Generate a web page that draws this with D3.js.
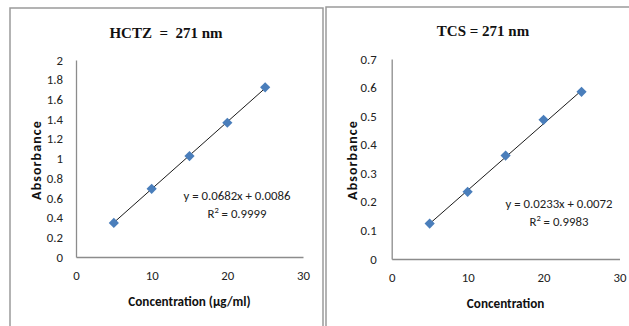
<!DOCTYPE html>
<html>
<head>
<meta charset="utf-8">
<script src="https://cdn.jsdelivr.net/npm/d3@7"></script>
<style>
  html, body { margin: 0; padding: 0; background: #fff; }
  svg { display: block; }
  .tick-label { font-family: Carlito, Lato, "Open Sans", sans-serif; font-size: 12.8px; fill: #222; }
  .axis-title { font-family: Carlito, Lato, "Open Sans", sans-serif; font-size: 13.2px; font-weight: bold; fill: #111; }
  .chart-title { font-family: "Liberation Serif", "Times New Roman", serif; font-size: 15px; font-weight: bold; fill: #111; }
  .eq { font-family: Carlito, Lato, "Open Sans", sans-serif; font-size: 12.8px; fill: #222; }
</style>
</head>
<body>
<svg id="chart" width="629" height="326"></svg>
<script>
// ---- Data ----
const concentrations = [5, 10, 15, 20, 25];
const hctzAbsorbance = [0.346, 0.692, 1.025, 1.363, 1.723];
const tcsAbsorbance = [0.124, 0.235, 0.362, 0.487, 0.585];
const hctzFit = [0.0682, 0.0086];   // slope, intercept
const tcsFit = [0.0233, 0.0072];
const hctzR2 = "0.9999";
const tcsR2 = "0.9983";
const xTicks = [0, 10, 20, 30];
const hctzYTicks = [0, 0.2, 0.4, 0.6, 0.8, 1, 1.2, 1.4, 1.6, 1.8, 2];
const tcsYTicks = [0, 0.1, 0.2, 0.3, 0.4, 0.5, 0.6, 0.7];
const titles = ["HCTZ  =  271 nm", "TCS = 271 nm"];
const xTitles = ["Concentration (µg/ml)", "Concentration"];
const yTitle = "Absorbance";

const svg = d3.select("#chart");

// panel borders
const border = svg.append("g").attr("stroke", "#9a9a9a").attr("stroke-width", 1.5).attr("fill", "none");
border.append("path").attr("d", "M10,330 L10,8 L323,8 L323,330");
border.append("path").attr("d", "M326,330 L326,7 L635,7");

function drawPanel(cfg) {
  const x = d3.scaleLinear().domain([0, 30]).range([cfg.x0, cfg.x1]);
  const y = d3.scaleLinear().domain([0, cfg.yMax]).range([cfg.y0, cfg.y1]);
  const g = svg.append("g");

  // title
  g.append("text").attr("class", "chart-title")
    .attr("x", cfg.titleX).attr("y", cfg.titleY)
    .attr("text-anchor", "middle").attr("xml:space", "preserve")
    .style("white-space", "pre")
    .text(cfg.title);

  // axes
  const xAxis = d3.axisBottom(x).tickValues(xTicks).tickSize(0).tickPadding(14).tickFormat(d3.format("d"));
  const yAxis = d3.axisLeft(y).tickValues(cfg.yTicks).tickSize(0).tickPadding(cfg.yPad).tickFormat(d => String(+d.toFixed(2)));

  const gx = g.append("g").attr("transform", `translate(0,${cfg.y0})`).call(xAxis);
  const gy = g.append("g").attr("transform", `translate(${cfg.x0},0)`).call(yAxis);
  [gx, gy].forEach(a => {
    a.select(".domain").attr("stroke", "#8c8c8c").attr("stroke-width", 1.3);
    a.selectAll(".tick text").attr("class", "tick-label").attr("font-family", null).attr("font-size", null);
  });

  // trendline
  const fx = d3.extent(cfg.xs);
  g.append("line")
    .attr("x1", x(fx[0])).attr("y1", y(cfg.fit[0] * fx[0] + cfg.fit[1]))
    .attr("x2", x(fx[1])).attr("y2", y(cfg.fit[0] * fx[1] + cfg.fit[1]))
    .attr("stroke", "#1a1a1a").attr("stroke-width", 1);

  // markers
  g.selectAll(".pt").data(cfg.xs.map((v, i) => [v, cfg.ys[i]])).join("path")
    .attr("class", "pt")
    .attr("d", d3.symbol(d3.symbolSquare, 52)())
    .attr("transform", d => `translate(${x(d[0])},${y(d[1])}) rotate(45)`)
    .attr("fill", "#4a7ebb");

  // equation
  g.append("text").attr("class", "eq").attr("x", cfg.eqX).attr("y", cfg.eqY)
    .attr("text-anchor", "middle")
    .text(`y = ${cfg.fit[0]}x + ${cfg.fit[1].toFixed(4)}`);
  const r = g.append("text").attr("class", "eq").attr("x", cfg.eqX).attr("y", cfg.eqY + 17.5)
    .attr("text-anchor", "middle");
  r.append("tspan").text("R");
  r.append("tspan").attr("dy", -4.5).attr("font-size", "8.5px").text("2");
  r.append("tspan").attr("dy", 4.5).text(" = " + cfg.r2);

  // axis titles
  g.append("text").attr("class", "axis-title")
    .attr("x", (cfg.x0 + cfg.x1) / 2).attr("y", cfg.xTitleY)
    .attr("text-anchor", "middle").text(cfg.xTitle);
  g.append("text").attr("class", "axis-title")
    .attr("transform", `translate(${cfg.yTitleX},${cfg.yTitleY}) rotate(-90)`)
    .attr("text-anchor", "middle")
    .attr("letter-spacing", "1.1px")
    .style("font-size", "14px")
    .text(yTitle);
}

drawPanel({
  x0: 76, x1: 303, y0: 257, y1: 60, yMax: 2, yTicks: hctzYTicks, yPad: 13,
  xs: concentrations, ys: hctzAbsorbance, fit: hctzFit, r2: hctzR2,
  title: titles[0], titleX: 166, titleY: 38,
  eqX: 237, eqY: 200, xTitle: xTitles[0], xTitleY: 306,
  yTitleX: 41, yTitleY: 160
});

drawPanel({
  x0: 391.7, x1: 619.5, y0: 259, y1: 59, yMax: 0.7, yTicks: tcsYTicks, yPad: 15,
  xs: concentrations, ys: tcsAbsorbance, fit: tcsFit, r2: tcsR2,
  title: titles[1], titleX: 483, titleY: 36,
  eqX: 559, eqY: 208, xTitle: xTitles[1], xTitleY: 308,
  yTitleX: 357, yTitleY: 160
});
</script>
</body>
</html>
